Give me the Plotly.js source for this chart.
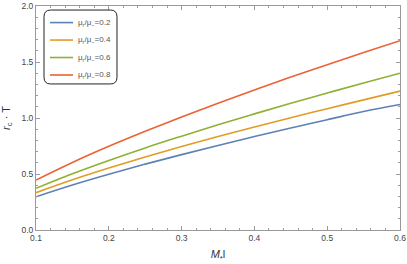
<!DOCTYPE html>
<html>
<head>
<meta charset="utf-8">
<script src="https://cdn.plot.ly/plotly-3.0.1.min.js"></script>
<style>html,body{margin:0;padding:0;background:#fff;}#chart{width:407px;height:264px;}</style>
</head>
<body>
<div id="chart"></div>
<script>
const xVals = [0.1, 0.15, 0.2, 0.25, 0.3, 0.35, 0.4, 0.45, 0.5, 0.55, 0.6];
const ratio02 = [0.297, 0.402, 0.498, 0.588, 0.673, 0.755, 0.834, 0.911, 0.985, 1.058, 1.12];
const ratio04 = [0.333, 0.448, 0.553, 0.652, 0.745, 0.834, 0.920, 1.003, 1.083, 1.162, 1.24];
const ratio06 = [0.372, 0.502, 0.621, 0.733, 0.838, 0.940, 1.037, 1.132, 1.223, 1.313, 1.40];
const ratio08 = [0.446, 0.603, 0.747, 0.881, 1.009, 1.132, 1.250, 1.365, 1.476, 1.584, 1.69];
const seriesNames = ['μ<sub>r</sub>/μ<sub>−</sub>=0.2', 'μ<sub>r</sub>/μ<sub>−</sub>=0.4', 'μ<sub>r</sub>/μ<sub>−</sub>=0.6', 'μ<sub>r</sub>/μ<sub>−</sub>=0.8'];
const seriesColors = ['#5E81B5', '#E19C24', '#8FB032', '#EB6235'];
const xTicks = [0.1, 0.2, 0.3, 0.4, 0.5, 0.6];
const yTicks = [0.0, 0.5, 1.0, 1.5, 2.0];

const allSeries = [ratio02, ratio04, ratio06, ratio08];
const traces = allSeries.map((ys, i) => ({
  x: xVals, y: ys, type: 'scatter', mode: 'lines',
  name: seriesNames[i], showlegend: false,
  line: {color: seriesColors[i], width: 1.6, shape: 'spline'}
}));

const font = 'Liberation Sans, Arial, sans-serif';

// rounded legend frame in paper coords
const x0 = 0.022, x1 = 0.2225, y0 = 0.652, y1 = 0.982, rx = 0.018, ry = 0.03;
const framePath = `M ${x0+rx},${y1} L ${x1-rx},${y1} Q ${x1},${y1} ${x1},${y1-ry} L ${x1},${y0+ry} Q ${x1},${y0} ${x1-rx},${y0} L ${x0+rx},${y0} Q ${x0},${y0} ${x0},${y0+ry} L ${x0},${y1-ry} Q ${x0},${y1} ${x0+rx},${y1} Z`;

const shapes = [{type: 'path', xref: 'paper', yref: 'paper', path: framePath, line: {color: '#222', width: 1}, fillcolor: 'rgba(0,0,0,0)'}];
const annotations = [];
const rowY = [0.926, 0.848, 0.770, 0.692];
seriesNames.forEach((n, i) => {
  shapes.push({type: 'line', xref: 'paper', yref: 'paper', x0: 0.0385, x1: 0.1016, y0: rowY[i], y1: rowY[i],
    line: {color: seriesColors[i], width: 1.6}});
  annotations.push({xref: 'paper', yref: 'paper', x: 0.110, y: rowY[i], xanchor: 'left', yanchor: 'middle',
    text: n, showarrow: false, font: {family: font, size: 8, color: '#555'}});
});

const axisCommon = {
  showgrid: false, zeroline: false, showline: true, mirror: 'allticks',
  linecolor: '#9a9a9a', linewidth: 1,
  ticks: 'inside', ticklen: 4, tickcolor: '#9a9a9a', tickwidth: 1,
  tickfont: {family: font, size: 8.5, color: '#444'}
};

const layout = {
  width: 407, height: 264,
  margin: {l: 36, r: 7, t: 6, b: 34},
  paper_bgcolor: '#fff', plot_bgcolor: '#fff',
  showlegend: false,
  xaxis: Object.assign({}, axisCommon, {
    range: [0.1, 0.6], tickvals: xTicks, ticktext: xTicks.map(v => v.toFixed(1)),
    minor: {dtick: 0.02, ticks: 'inside', ticklen: 2, tickcolor: '#9a9a9a'},
    title: {text: '<i>M</i><sub>*</sub>l', font: {family: font, size: 11, color: '#333'}, standoff: 8}
  }),
  yaxis: Object.assign({}, axisCommon, {
    range: [0, 2], tickvals: yTicks, ticktext: yTicks.map(v => v.toFixed(1)),
    minor: {dtick: 0.1, ticks: 'inside', ticklen: 2, tickcolor: '#9a9a9a'},
    title: {text: '<i>r</i><sub>c</sub> · T', font: {family: font, size: 11, color: '#333'}, standoff: 8}
  }),
  shapes: shapes,
  annotations: annotations
};

Plotly.newPlot('chart', traces, layout, {displayModeBar: false, staticPlot: true});
</script>
</body>
</html>
